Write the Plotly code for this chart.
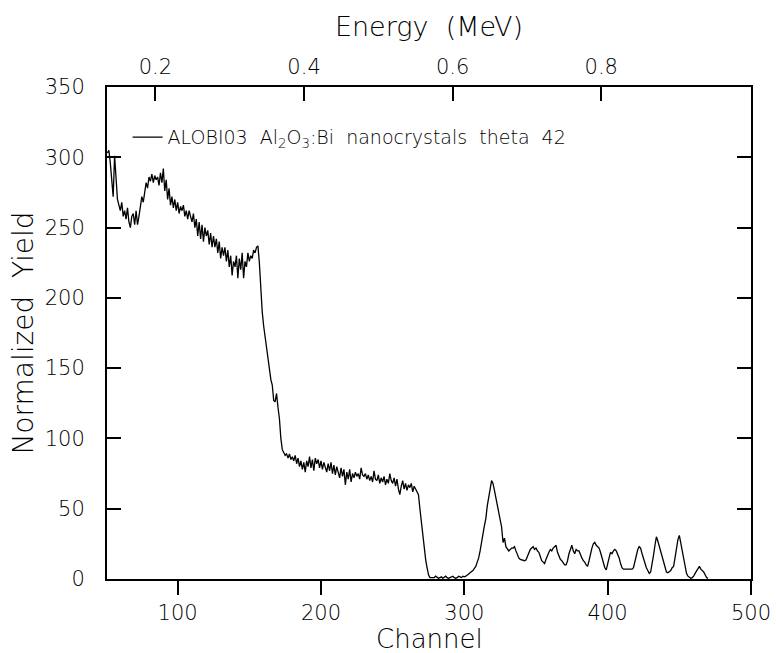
import plotly.graph_objects as go

# RBS spectrum: channel number vs normalized yield
channel = list(range(51, 471))

yield_high = [  # channels 51-156
    303, 305, 296, 285, 272, 301, 280, 270, 266, 262,
    268, 258, 262, 256, 264, 254, 250, 258, 260, 252,
    262, 252, 258, 266, 272, 268, 276, 282, 278, 286,
    283, 288, 282, 287, 284, 286, 280, 289, 282, 292,
    276, 284, 270, 278, 266, 272, 264, 270, 262, 268,
    260, 265, 262, 266, 258, 262, 256, 262, 258, 254,
    260, 250, 256, 244, 254, 242, 252, 240, 250, 244,
    248, 238, 246, 236, 244, 236, 242, 232, 240, 228,
    236, 230, 236, 226, 234, 222, 230, 216, 226, 222,
    230, 214, 228, 220, 232, 214, 226, 222, 232, 226,
    230, 228, 234, 232, 236, 237,
]
yield_edge1 = [  # channels 157-175
    225, 205, 190, 180, 172, 165, 160, 150, 142, 138,
    127, 126, 132, 122, 114, 100, 92, 90, 88,
]
yield_mid = [  # channels 176-267
    89, 86, 89, 85, 87, 84, 88, 82, 86, 80,
    84, 78, 83, 76, 84, 80, 87, 79, 85, 77,
    86, 82, 85, 79, 84, 78, 83, 80, 76, 82,
    77, 83, 75, 81, 74, 80, 76, 72, 79, 73,
    78, 67, 76, 71, 78, 69, 75, 72, 76, 73,
    75, 71, 79, 74, 73, 75, 71, 74, 70, 73,
    69, 77, 71, 70, 74, 68, 72, 69, 73, 67,
    71, 68, 75, 70, 68, 72, 66, 71, 64, 60,
    66, 70, 64, 68, 63, 67, 65, 68, 62, 66,
    64, 62,
]
yield_edge2 = [  # channels 268-276
    60, 50, 40, 30, 22, 14, 8, 3, 1,
]
yield_gap = [  # channels 277-299
    1, 0.5, 1, 2, 1, 0.5, 1, 1.5, 0.5, 1,
    2, 1, 0.5, 1, 1.5, 2, 1, 0.5, 1, 2,
    1.5, 1, 2,
]
yield_low = [  # channels 300-470
    1.5, 2, 2.5, 3.5, 4.5, 5, 6, 7.5, 9, 12,
    15, 20, 25, 32, 38, 43, 52, 60, 64, 70,
    68, 63, 58, 53, 47, 42, 37, 26, 29, 23,
    21, 20, 21, 22, 22, 23, 20, 17, 15, 14,
    13.5, 13.5, 13, 13.5, 16, 19, 21, 22, 23, 21,
    22, 20, 19, 16, 13, 12, 11, 14, 17, 19,
    21, 20, 22, 23, 24, 19, 16, 14, 13, 11,
    10, 10, 13, 18, 22, 24, 20, 18, 21, 20,
    20, 17, 15, 13, 12, 10, 9, 13, 18, 22,
    25, 26, 24, 23, 22, 19, 15, 11, 8, 6.5,
    10, 15, 19, 18, 20, 21, 20, 18, 15, 11,
    8, 7, 7, 7, 7, 7, 7, 7, 8, 13,
    18, 21, 23, 22, 18, 14, 11, 8, 6, 4,
    5, 10, 17, 24, 30, 27, 23, 20, 16, 11,
    7, 5, 4.5, 5, 6, 8, 9, 15, 22, 28,
    31, 26, 19, 14, 9, 4, 2, 1, 0.5, 1,
    2, 4, 6, 8, 9, 7, 6, 5, 3, 1,
    0.5,
]
norm_yield = yield_high + yield_edge1 + yield_mid + yield_edge2 + yield_gap + yield_low

# energy calibration (MeV) for the top axis: E = E0 + gain * channel
E0 = 0.037
gain = 0.001929
ch_range = [50.7, 500]
energy_ticks = [0.2, 0.4, 0.6, 0.8]
channel_ticks = [100, 200, 300, 400, 500]
yield_ticks = [0, 50, 100, 150, 200, 250, 300, 350]

FONT = "DejaVu Sans"
black = "#000000"

fig = go.Figure()
fig.add_trace(go.Scatter(
    x=channel, y=norm_yield, mode="lines",
    line=dict(color=black, width=1.3),
    name="ALOBI03  Al<sub>2</sub>O<sub>3</sub>:Bi  nanocrystals  theta  42",
))
# same spectrum on the energy scale (transparent) so the top axis is laid out
fig.add_trace(go.Scatter(
    x=[E0 + gain * c for c in channel], y=norm_yield, mode="lines",
    xaxis="x2", line=dict(color="rgba(0,0,0,0)", width=0),
    showlegend=False, hoverinfo="skip",
))


def title_font(size):
    return dict(family=FONT, size=size, color=black, weight=200)


axis_common = dict(
    showgrid=False, zeroline=False, showline=True, automargin=False,
    linecolor=black, linewidth=2, tickcolor=black, tickwidth=1.5, ticklen=14,
    tickfont=title_font(21),
)

fig.update_layout(
    width=776, height=653,
    margin=dict(l=107, r=25, t=87, b=74),
    paper_bgcolor="white", plot_bgcolor="white",
    font=dict(family=FONT, color=black),
    showlegend=True,
    legend=dict(
        x=0.032, y=0.898, xanchor="left", yanchor="middle",
        bgcolor="rgba(0,0,0,0)", font=title_font(19),
    ),
    xaxis=dict(
        range=ch_range, tickvals=channel_ticks, ticks="outside", mirror=True,
        **axis_common,
    ),
    xaxis2=dict(
        overlaying="x", side="top", anchor="y",
        range=[E0 + gain * ch_range[0], E0 + gain * ch_range[1]],
        tickvals=energy_ticks, ticktext=[f"{v:.1f}" for v in energy_ticks],
        ticks="inside", ticklabelstandoff=3,
        title=dict(text="Energy  (MeV)", font=title_font(27), standoff=10),
        **axis_common,
    ),
    yaxis=dict(
        range=[0, 350], tickvals=yield_ticks, ticks="inside", mirror="ticks",
        ticklabelstandoff=16,
        title=dict(text="Normalized  Yield", font=title_font(28), standoff=3),
        **axis_common,
    ),
    annotations=[dict(
        text="Channel", xref="paper", yref="paper", x=0.5, y=0,
        xanchor="center", yanchor="bottom", yshift=-76, showarrow=False,
        borderpad=0, font=title_font(26),
    )],
)

fig.write_html("out.html")
